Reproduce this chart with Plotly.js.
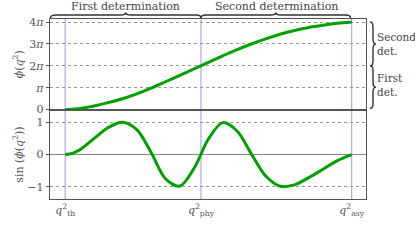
<!DOCTYPE html>
<html>
<head>
<meta charset="utf-8">
<script src="https://cdn.plot.ly/plotly-3.0.1.min.js"></script>
<style>html,body{margin:0;padding:0;background:#fff;}#chart{width:415px;height:251px;}</style>
</head>
<body>
<div id="chart"></div>
<script>
// Special points on the q^2 axis (normalised: threshold = 0, asymptotic = 1)
const qNames = ['th', 'phy', 'asy'];
const qPositions = [0, 0.474, 1];

// Sample positions along q^2 (normalised)
const qSamples = [0, 0.025, 0.05, 0.10, 0.15, 0.20, 0.25, 0.30, 0.35, 0.40, 0.45, 0.50,
                  0.55, 0.60, 0.65, 0.70, 0.75, 0.80, 0.85, 0.90, 0.95, 1.00];
// phase phi(q^2) in units of pi
const phiOverPi = [0, 0.012, 0.045, 0.165, 0.315, 0.495, 0.72, 0.98, 1.27, 1.565, 1.86, 2.16,
                   2.455, 2.74, 2.995, 3.23, 3.44, 3.61, 3.745, 3.85, 3.94, 4.0];
// sin(phi(q^2))
const sinPhi = [0, 0.038, 0.141, 0.495, 0.836, 1.0, 0.771, 0.063, -0.750, -0.979, -0.426, 0.482,
                0.990, 0.729, 0.016, -0.668, -0.982, -0.941, -0.718, -0.454, -0.187, 0.0];

// Tick labels
const phiTickVals = [0, 1, 2, 3, 4];
const phiTickText = ['0', '<i>π</i>', '2<i>π</i>', '3<i>π</i>', '4<i>π</i>'];
const sinTickVals = [-1, 0, 1];
const sinTickText = ['−1', '0', '1'];

// Brace labels
const topBraceLabels = ['First determination', 'Second determination'];
const sideBraceLabels = ['Second<br>det.', 'First<br>det.'];

const PI = Math.PI;
const xRange = [-0.053, 1.05];
const green = '#00a000';
const frame = '#555';
const fontFam = 'DejaVu Serif';

const traces = [
  {x: qSamples, y: phiOverPi.map(v => v * PI), xaxis: 'x2', yaxis: 'y2', mode: 'lines',
   line: {color: green, width: 3, shape: 'spline', smoothing: 0.9}, hoverinfo: 'skip'},
  {x: qSamples, y: sinPhi, xaxis: 'x', yaxis: 'y', mode: 'lines',
   line: {color: green, width: 3, shape: 'spline', smoothing: 0.9}, hoverinfo: 'skip'}
];

const qTickText = qNames.map(n => '<i>q</i><sup>2</sup><sub>' + n + '</sub>');

// Brace helpers
function hBrace(x0, x1, yb, h, d, q) {
  const xm = (x0 + x1) / 2;
  return `M ${x0},${yb - d} Q ${x0},${yb} ${x0 + q},${yb} L ${xm - q},${yb} Q ${xm},${yb} ${xm},${yb + h} ` +
         `Q ${xm},${yb} ${xm + q},${yb} L ${x1 - q},${yb} Q ${x1},${yb} ${x1},${yb - d}`;
}
function vBrace(y0, y1, xb, h, d, q) {
  const ym = (y0 + y1) / 2;
  return `M ${xb - d},${y1} Q ${xb},${y1} ${xb},${y1 - q} L ${xb},${ym + q} Q ${xb},${ym} ${xb + h},${ym} ` +
         `Q ${xb},${ym} ${xb},${ym - q} L ${xb},${y0 + q} Q ${xb},${y0} ${xb - d},${y0}`;
}

const shapes = [];
qPositions.forEach(p => shapes.push({type: 'line', xref: 'x', yref: 'paper', x0: p, x1: p, y0: 0, y1: 1,
  line: {color: '#a8a8f4', width: 1.2}, layer: 'below'}));

const braceLine = {color: '#333', width: 1.4};
const qx = 0.0175;
shapes.push({type: 'path', xref: 'x', yref: 'paper', path: hBrace(xRange[0] + 0.002, qPositions[1], 1.0222, 0.014, 0.016, qx), line: braceLine});
shapes.push({type: 'path', xref: 'x', yref: 'paper', path: hBrace(qPositions[1], qPositions[2] - 0.004, 1.0222, 0.014, 0.016, qx), line: braceLine});
shapes.push({type: 'path', xref: 'paper', yref: 'y2', path: vBrace(2 * PI, 4 * PI, 1.0222, 0.0095, 0.0095, 0.7), line: braceLine});
shapes.push({type: 'path', xref: 'paper', yref: 'y2', path: vBrace(0.15, 2 * PI, 1.0222, 0.0095, 0.0095, 0.7), line: braceLine});

const annFont = {family: fontFam, size: 11, color: '#444'};
const sideFont = {family: fontFam, size: 10.5, color: '#444'};
const annotations = [
  {xref: 'x', yref: 'paper', x: (xRange[0] + qPositions[1]) / 2, y: 1.072, text: topBraceLabels[0], showarrow: false, font: annFont, xanchor: 'center', yanchor: 'middle'},
  {xref: 'x', yref: 'paper', x: (qPositions[1] + qPositions[2]) / 2, y: 1.072, text: topBraceLabels[1], showarrow: false, font: annFont, xanchor: 'center', yanchor: 'middle'},
  {xref: 'paper', yref: 'y2', x: 1.027, y: 3 * PI, text: sideBraceLabels[0], showarrow: false, font: sideFont, xanchor: 'left', yanchor: 'middle', align: 'left'},
  {xref: 'paper', yref: 'y2', x: 1.027, y: 1 * PI, yshift: 3, text: sideBraceLabels[1], showarrow: false, font: sideFont, xanchor: 'left', yanchor: 'middle', align: 'left'}
];

const tickFont = {family: fontFam, size: 11, color: '#555'};
const layout = {
  width: 415, height: 251,
  margin: {l: 50, r: 49, t: 19, b: 52},
  paper_bgcolor: '#fff', plot_bgcolor: '#fff',
  showlegend: false,
  font: {family: fontFam, color: '#555'},
  xaxis: {domain: [0, 1], range: xRange, anchor: 'y', tickvals: qPositions, ticktext: qTickText,
    showgrid: false, zeroline: false, showline: true, mirror: true, linecolor: frame, linewidth: 1.3,
    ticks: '', tickfont: tickFont},
  xaxis2: {domain: [0, 1], range: xRange, anchor: 'y2', showticklabels: false,
    showgrid: false, zeroline: false, showline: true, mirror: true, linecolor: frame, linewidth: 1.3, ticks: ''},
  yaxis: {domain: [0, 0.494], range: [-1.38, 1.38], anchor: 'x', tickvals: sinTickVals, ticktext: sinTickText,
    showgrid: true, gridcolor: '#999', griddash: '3px,3px', gridwidth: 1,
    zeroline: true, zerolinecolor: '#888', zerolinewidth: 1.2,
    showline: true, mirror: true, linecolor: frame, linewidth: 1.3,
    ticks: 'outside', ticklen: 3, tickcolor: frame, tickfont: tickFont,
    title: {text: 'sin (<i>ϕ</i>(<i>q</i><sup>2</sup>))', font: {family: fontFam, size: 11, color: '#555'}, standoff: 1}},
  yaxis2: {domain: [0.497, 1], range: [0, 13], anchor: 'x2', tickvals: phiTickVals.map(v => v * PI), ticktext: phiTickText,
    showgrid: true, gridcolor: '#999', griddash: '3px,3px', gridwidth: 1,
    zeroline: true, zerolinecolor: '#444', zerolinewidth: 1.5,
    showline: true, mirror: true, linecolor: frame, linewidth: 1.3,
    ticks: 'outside', ticklen: 3, tickcolor: frame, tickfont: tickFont,
    title: {text: '<i>ϕ</i>(<i>q</i><sup>2</sup>)', font: {family: fontFam, size: 11, color: '#555'}, standoff: 3}},
  shapes: shapes,
  annotations: annotations
};

Plotly.newPlot('chart', traces, layout, {staticPlot: true, displayModeBar: false});
</script>
</body>
</html>
